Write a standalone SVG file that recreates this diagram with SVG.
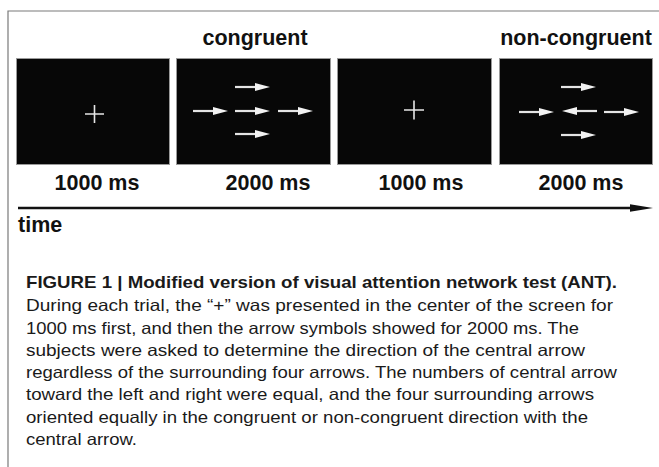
<svg xmlns="http://www.w3.org/2000/svg" xmlns:xlink="http://www.w3.org/1999/xlink" width="659" height="467" viewBox="0 0 659 467">
<style>
.frame{fill:none;stroke:#7a7a7a;stroke-width:1.2}
.panel{fill:#070707;stroke:#9a9a9a;stroke-width:1}
.lbl{font-family:"Liberation Sans",Arial,sans-serif;font-weight:bold;font-size:21.5px;fill:#111;text-anchor:middle}
.time{font-family:"Liberation Sans",Arial,sans-serif;font-weight:bold;font-size:21.5px;fill:#111}
.cap{font-family:"Liberation Sans",Arial,sans-serif;font-size:16.5px;fill:#1a1a1a}
.capb{font-family:"Liberation Sans",Arial,sans-serif;font-size:16.5px;font-weight:bold;fill:#1a1a1a}
.cross{stroke:#e6e6e6;stroke-width:1.6;fill:none}
</style>
<defs>
<g id="arr">
<rect x="0" y="-1.1" width="22" height="2.2" fill="#e4e4e4"/>
<polygon points="20,-4 35,0 20,4" fill="#f2f2f2"/>
</g>
</defs>
<path class="frame" d="M8,467 V11 H659"/>
<g id="panel1">
<rect class="panel" x="16.5" y="58.5" width="153" height="106"/>
<path class="cross" d="M85,114 H104 M94.5,105 V123"/>
</g>
<g id="panel2">
<rect class="panel" x="176.5" y="58.5" width="154" height="106"/>
<use xlink:href="#arr" x="235" y="87"/>
<use xlink:href="#arr" x="193" y="111"/>
<use xlink:href="#arr" x="235" y="111"/>
<use xlink:href="#arr" x="278" y="111"/>
<use xlink:href="#arr" x="235" y="134"/>
</g>
<g id="panel3">
<rect class="panel" x="337.5" y="58.5" width="154" height="106"/>
<path class="cross" d="M404,110 H424 M414,100.5 V119.5"/>
</g>
<g id="panel4">
<rect class="panel" x="499.5" y="58.5" width="153" height="106"/>
<use xlink:href="#arr" x="561" y="87"/>
<use xlink:href="#arr" x="519" y="112"/>
<use xlink:href="#arr" transform="translate(597,111) scale(-1,1)"/>
<use xlink:href="#arr" x="604" y="112"/>
<use xlink:href="#arr" x="561" y="135"/>
</g>
<g id="labels">
<text class="lbl" x="255" y="45">congruent</text>
<text class="lbl" x="576" y="45">non-congruent</text>
<text class="lbl" x="97" y="190">1000 ms</text>
<text class="lbl" x="268" y="190">2000 ms</text>
<text class="lbl" x="421" y="190">1000 ms</text>
<text class="lbl" x="581" y="190">2000 ms</text>
<text class="time" x="18" y="232">time</text>
</g>
<g id="connectors">
<line x1="18" y1="208" x2="631" y2="208" stroke="#111" stroke-width="2.4"/>
<polygon points="630,204.3 653,208 630,211.7" fill="#111"/>
</g>
<g id="caption">
<text class="capb" x="26" y="288" textLength="591" lengthAdjust="spacingAndGlyphs">FIGURE 1 | Modified version of visual attention network test (ANT).</text>
<text class="cap" x="26" y="311" textLength="587" lengthAdjust="spacingAndGlyphs">During each trial, the “+” was presented in the center of the screen for</text>
<text class="cap" x="26" y="333.5" textLength="553" lengthAdjust="spacingAndGlyphs">1000 ms first, and then the arrow symbols showed for 2000 ms. The</text>
<text class="cap" x="26" y="356" textLength="559" lengthAdjust="spacingAndGlyphs">subjects were asked to determine the direction of the central arrow</text>
<text class="cap" x="26" y="378" textLength="591" lengthAdjust="spacingAndGlyphs">regardless of the surrounding four arrows. The numbers of central arrow</text>
<text class="cap" x="26" y="400" textLength="568" lengthAdjust="spacingAndGlyphs">toward the left and right were equal, and the four surrounding arrows</text>
<text class="cap" x="26" y="422.5" textLength="562" lengthAdjust="spacingAndGlyphs">oriented equally in the congruent or non-congruent direction with the</text>
<text class="cap" x="26" y="445" textLength="111" lengthAdjust="spacingAndGlyphs">central arrow.</text>
</g>
</svg>
